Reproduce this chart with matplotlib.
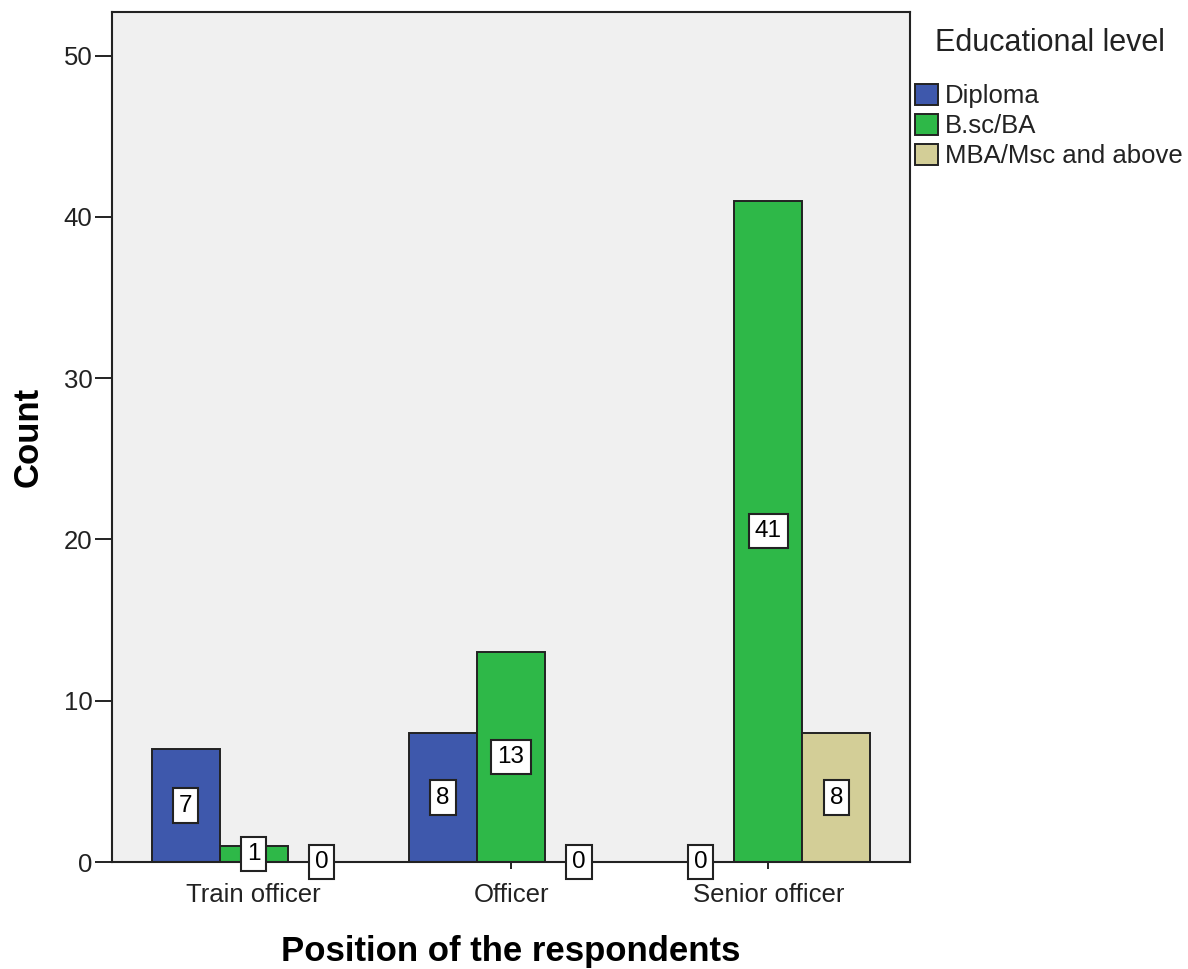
import matplotlib
matplotlib.use("Agg")
import matplotlib.pyplot as plt
import numpy as np
from matplotlib.patches import Patch

positions = ["Train officer", "Officer", "Senior officer"]
levels = ["Diploma", "B.sc/BA", "MBA/Msc and above"]
diploma = [7, 8, 0]
bsc_ba = [1, 13, 41]
mba_msc = [0, 0, 8]
series = [diploma, bsc_ba, mba_msc]
colors = ["#3E58AC", "#2EB848", "#D3CE97"]

plt.rcParams["font.family"] = ["Liberation Sans", "DejaVu Sans"]

fig = plt.figure(figsize=(11.88, 9.69), dpi=100)
ax = fig.add_axes([0.0943, 0.1104, 0.6717, 0.8772])
ax.set_facecolor("#F0F0F0")

x = np.arange(len(positions))
width = 0.264
for i, (vals, col) in enumerate(zip(series, colors)):
    xs = x + (i - 1) * width
    ax.bar(xs, vals, width=width, color=col, edgecolor="#222222", linewidth=1.4, zorder=2)
    for xi, v in zip(xs, vals):
        if v == 0:
            ax.plot([xi - width / 2, xi + width / 2], [0, 0], color="#222222", lw=1.8, zorder=3)
        ax.text(xi, v / 2, str(v), ha="center", va="center", fontsize=17.5, zorder=4,
                bbox=dict(boxstyle="square,pad=0.25", facecolor="white", edgecolor="#222222", linewidth=1.5))

ax.set_xlim(-0.55, 2.55)
ax.set_ylim(0, 52.7)
ax.set_yticks([0, 10, 20, 30, 40, 50])
ax.set_xticks(x)
ax.set_xticklabels(positions)
ax.tick_params(axis="both", labelsize=18.5, width=1.4, color="#222222", labelcolor="#222222")
ax.tick_params(axis="y", length=12, pad=2)
ax.tick_params(axis="x", length=5, pad=10)
for s in ax.spines.values():
    s.set_linewidth(1.5)
    s.set_color("#222222")

ax.set_ylabel("Count", fontsize=25, fontweight="bold", labelpad=14)
ax.set_xlabel("Position of the respondents", fontsize=25, fontweight="bold", labelpad=20)

# legend: title drawn as its own text, entries below it
fig.text(1050 / 1188, 1 - 43 / 969, "Educational level", ha="center", va="center",
         fontsize=22, color="#222222")
handles = [Patch(facecolor=c, edgecolor="#222222", linewidth=1.4) for c in colors]
leg = fig.legend(handles, levels, loc="upper left",
                 bbox_to_anchor=(915 / 1188, 1 - 83.5 / 969), frameon=False, fontsize=18.5,
                 handlelength=0.9, handleheight=0.9, borderpad=0, borderaxespad=0,
                 handletextpad=0.25, labelspacing=0.22)
for t in leg.get_texts():
    t.set_color("#222222")

fig.savefig("out.png", dpi=100)
